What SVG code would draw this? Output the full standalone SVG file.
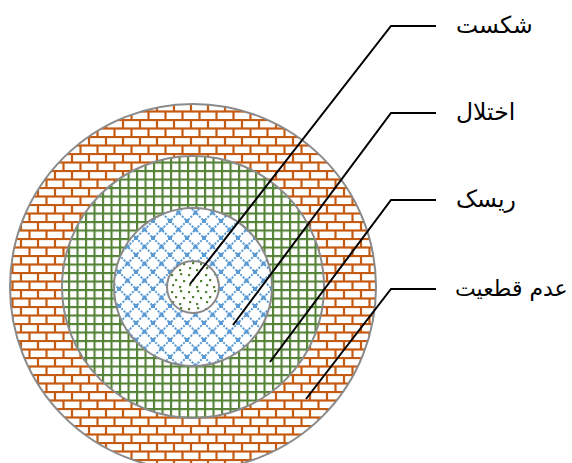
<svg xmlns="http://www.w3.org/2000/svg" width="572" height="463" viewBox="0 0 572 463">
<defs>
<pattern id="brick" patternUnits="userSpaceOnUse" width="17" height="17" x="0" y="0">
<rect width="17" height="17" fill="#fff"/>
<g stroke="#C55A11" stroke-width="2.2" fill="none">
<line x1="0" y1="1" x2="17" y2="1"/>
<line x1="0" y1="9.5" x2="17" y2="9.5"/>
<line x1="4" y1="1" x2="4" y2="9.5"/>
<line x1="12.5" y1="9.5" x2="12.5" y2="18"/>
</g>
</pattern>
<pattern id="grid" patternUnits="userSpaceOnUse" width="8.5" height="8.5">
<rect width="8.5" height="8.5" fill="#fff"/>
<g stroke="#548235" stroke-width="2.2">
<line x1="1" y1="0" x2="1" y2="8.5"/>
<line x1="0" y1="1" x2="8.5" y2="1"/>
</g>
</pattern>
<pattern id="diamond" patternUnits="userSpaceOnUse" width="17" height="17">
<rect width="17" height="17" fill="#fff"/>
<g stroke="#5B9BD5" stroke-width="2" stroke-dasharray="2 1.4" fill="none">
<line x1="0" y1="0" x2="17" y2="17"/>
<line x1="17" y1="0" x2="0" y2="17"/>
</g>
<g fill="#5B9BD5">
<rect x="-2" y="-2" width="4" height="4"/>
<rect x="15" y="-2" width="4" height="4"/>
<rect x="-2" y="15" width="4" height="4"/>
<rect x="15" y="15" width="4" height="4"/>
<rect x="6.5" y="6.5" width="4" height="4"/>
</g>
</pattern>
<pattern id="dots" patternUnits="userSpaceOnUse" width="17" height="17">
<rect width="17" height="17" fill="#fff"/>
<g fill="#548235">
<rect x="1" y="2" width="2.2" height="2.2"/>
<rect x="10" y="1" width="2.2" height="2.2"/>
<rect x="5" y="7" width="2.2" height="2.2"/>
<rect x="13" y="8" width="2.2" height="2.2"/>
<rect x="2" y="12" width="2.2" height="2.2"/>
<rect x="9" y="14" width="2.2" height="2.2"/>
</g>
</pattern>
<style>
.ring{stroke:#8A8A8A;stroke-width:2}
.con{fill:none;stroke:#000;stroke-width:2}
.lbl{font-family:"DejaVu Sans",sans-serif;font-size:23.5px;fill:#000}
</style>
</defs>
<g id="uncertainty"><circle class="ring" cx="193" cy="287" r="183" fill="url(#brick)"/></g>
<g id="risk"><circle class="ring" cx="193" cy="287" r="131" fill="url(#grid)"/></g>
<g id="disruption"><circle class="ring" cx="193" cy="287" r="79" fill="url(#diamond)"/></g>
<g id="failure"><circle class="ring" cx="193" cy="287" r="26" fill="url(#dots)"/></g>
<g id="connectors">
<polyline class="con" points="190,284 391,26 436,26"/>
<polyline class="con" points="233,325 391,113 436,113"/>
<polyline class="con" points="270,362 391,200 436,200"/>
<polyline class="con" points="306,399 391,289 436,289"/>
</g>
<g id="labels">
<text class="lbl" x="456" y="33">شکست</text>
<text class="lbl" x="456" y="120">اختلال</text>
<text class="lbl" x="456" y="207">ریسک</text>
<text class="lbl" x="455" y="296" style="font-size:22px">عدم قطعیت</text>
</g>
</svg>
